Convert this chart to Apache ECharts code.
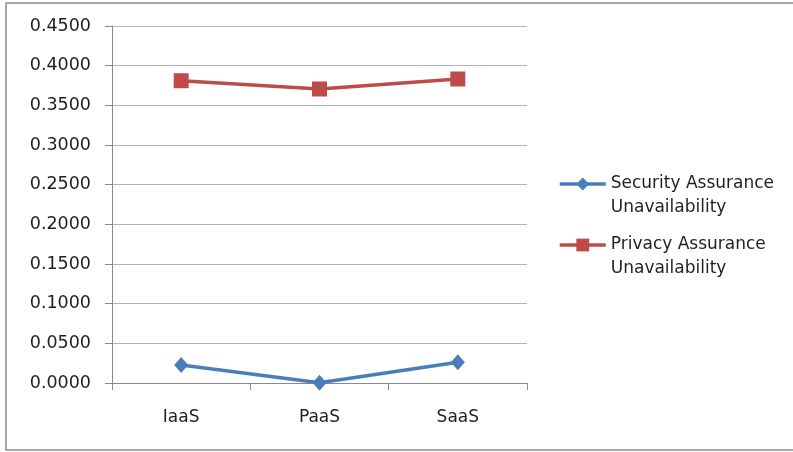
<!DOCTYPE html>
<html>
<head>
<meta charset="utf-8">
<title>Assurance Unavailability by Service Model</title>
<script src="https://cdn.jsdelivr.net/npm/echarts@6/dist/echarts.min.js"></script>
<style>
  html, body { margin: 0; padding: 0; background: #ffffff; }
  #chart { width: 793px; height: 452px; }
</style>
</head>
<body>
<div id="chart"></div>
<script>
// Service models on the category axis
const categories = ['IaaS', 'PaaS', 'SaaS'];

// Unavailability values per service model
const securityUnavailability = [0.0227, 0.0003, 0.0261];
const privacyUnavailability = [0.3810, 0.3706, 0.3832];

// Value axis range and step
const yMin = 0;
const yMax = 0.45;
const yStep = 0.05;

const seriesNames = ['Security Assurance Unavailability', 'Privacy Assurance Unavailability'];

const FONT = 'DejaVu Sans';
const TEXT = '#1f1f1f';
const AXIS = '#8a8a8a';
const GRID = '#b4b4b4';

const chart = echarts.init(document.getElementById('chart'), null, { renderer: 'canvas' });

// One legend per series; a blank first line keeps the icon level with
// the first line of the wrapped name.
function legendFor(name, top) {
  return {
    data: [name],
    left: 558,
    top: top,
    orient: 'vertical',
    padding: 0,
    itemWidth: 46,
    itemHeight: 16,
    itemGap: 0,
    selectedMode: false,
    lineStyle: { width: 3.5 },
    formatter: n => ' \n' + n.replace(' Unavailability', '\nUnavailability'),
    textStyle: {
      fontFamily: FONT,
      fontSize: 17,
      color: TEXT,
      lineHeight: 24
    }
  };
}

chart.setOption({
  backgroundColor: '#ffffff',
  animation: false,
  graphic: [{
    type: 'rect',
    shape: { x: 6, y: 3, width: 800, height: 447 },
    style: { fill: 'none', stroke: '#8c8c8c', lineWidth: 1.5 },
    silent: true,
    z: -1
  }],
  legend: [
    legendFor(seriesNames[0], 148),
    legendFor(seriesNames[1], 209)
  ],
  grid: { left: 112, right: 266, top: 26, bottom: 69, containLabel: false },
  xAxis: {
    type: 'category',
    data: categories,
    boundaryGap: true,
    axisLine: { show: true, lineStyle: { color: AXIS, width: 1 } },
    axisTick: { show: true, length: 7, alignWithLabel: false, lineStyle: { color: AXIS } },
    axisLabel: { fontFamily: FONT, fontSize: 17, color: TEXT, margin: 26 },
    splitLine: { show: false }
  },
  yAxis: {
    type: 'value',
    min: yMin,
    max: yMax,
    interval: yStep,
    axisLine: { show: true, lineStyle: { color: AXIS, width: 1 } },
    axisTick: { show: true, length: 7, lineStyle: { color: AXIS } },
    axisLabel: {
      fontFamily: FONT, fontSize: 17.5, color: TEXT, margin: 21,
      formatter: v => v.toFixed(4)
    },
    splitLine: { show: true, lineStyle: { color: GRID, width: 1 } }
  },
  series: [
    {
      name: seriesNames[0],
      type: 'line',
      data: securityUnavailability,
      symbol: 'diamond',
      symbolSize: [14, 16],
      color: '#4a7ebb',
      lineStyle: { width: 3.5, color: '#4a7ebb' },
      itemStyle: { color: '#4a7ebb' },
      z: 3
    },
    {
      name: seriesNames[1],
      type: 'line',
      data: privacyUnavailability,
      symbol: 'rect',
      symbolSize: 15,
      color: '#be4b48',
      lineStyle: { width: 3.5, color: '#be4b48' },
      itemStyle: { color: '#be4b48' },
      z: 3
    }
  ]
});
</script>
</body>
</html>
